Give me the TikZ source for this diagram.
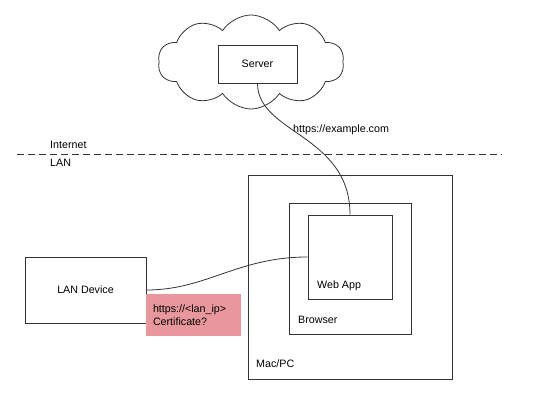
\documentclass[tikz,border=0pt]{standalone}
\usepackage{fontspec}
\setmainfont{Liberation Sans}
\usetikzlibrary{positioning, shapes, arrows}
\definecolor{certpink}{RGB}{232,152,156}
\tikzset{
  box/.style={rectangle, draw=black!80, line width=0.8pt},
  lbl/.style={anchor=west, inner sep=0pt},
}
\begin{document}
\begin{tikzpicture}[x=1pt, y=1pt, font=\fontsize{10.7}{13}\selectfont]
\useasboundingbox (0,0) rectangle (540,409);
\node[cloud, cloud puffs=10, cloud puff arc=115, aspect=2, draw=black!80, line width=0.8pt, minimum width=186pt, minimum height=94pt] (cloud) at (251,347) {};
\node[box, minimum width=79pt, minimum height=38pt] (srv) at (257.5,345) {Server};
\node[box, minimum width=204pt, minimum height=204pt] (mac) at (350,132) {};
\node[box, minimum width=122pt, minimum height=131pt] (brw) at (350,140.5) {};
\node[box, minimum width=84pt, minimum height=84pt] (app) at (350,152) {};
\node[box, minimum width=121pt, minimum height=66pt] (dev) at (85.5,119) {LAN Device};
\node[rectangle, fill=certpink, minimum width=95pt, minimum height=42pt, text width=81pt, inner xsep=7pt, align=left] (cert) at (193.5,94) {https://<lan\_ip>\\Certificate?};
\node[lbl] (applbl) at (317,123) {Web App};
\node[lbl] (brwlbl) at (298,89) {Browser};
\node[lbl] (maclbl) at (256,45) {Mac/PC};
\node[lbl] (url) at (293,279) {https://example.com};
\coordinate (netL) at (17,255);
\coordinate (netR) at (502,255);
\draw[dashed, dash pattern=on 7pt off 4pt, black!80, line width=0.8pt] (netL) -- (netR);
\node[lbl] (inet) at (50,264) {Internet};
\node[lbl] (lan) at (50,246) {LAN};
\draw[black!80, line width=0.8pt] (srv.south) .. controls +(0,-50) and +(0,80) .. (app.north);
\draw[black!80, line width=0.8pt] (dev.east) .. controls +(60,0) and +(-70,0) .. (app.west);
\end{tikzpicture}
\end{document}
